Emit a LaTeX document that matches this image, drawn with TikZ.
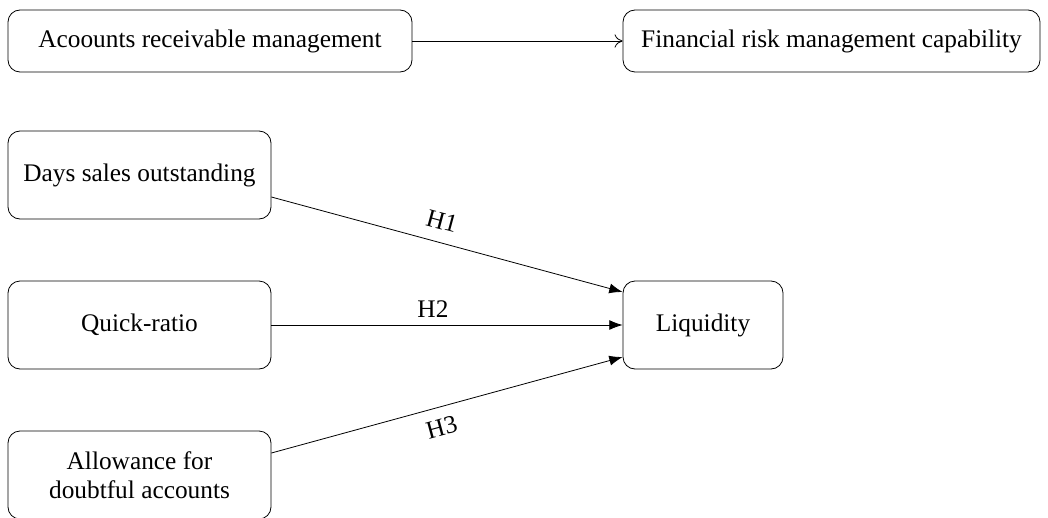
\documentclass[tikz,border=0pt]{standalone}
\usepackage{fontspec}
\setmainfont{Liberation Serif}
\usetikzlibrary{arrows.meta, positioning}

\begin{document}
\begin{tikzpicture}[x=0.75pt, y=-0.75pt, font=\fontsize{19}{22}\selectfont,
  box/.style={draw, rounded corners=9pt, align=center, line width=0.6pt},
  topbox/.style={box, minimum height=46.5pt},
  varbox/.style={box, minimum width=197.25pt, minimum height=66pt},
  hyp/.style={-{Latex[length=10pt,width=7.5pt]}, line width=0.6pt}]

\useasboundingbox (0,0) rectangle (1048,517);

% define the boxes
  \node[topbox, minimum width=303pt]    (acc)  at (210,41)   {Acoounts receivable management};
  \node[topbox, minimum width=312.75pt] (frm)  at (831.5,41) {Financial risk management capability};

  \node[varbox] (dso)  at (139.5,175) {Days sales outstanding};
  \node[varbox] (qr)   at (139.5,325) {Quick-ratio};
  \node[varbox] (afda) at (139.5,475) {Allowance for\\doubtful accounts};
  \node[box, minimum width=120pt, minimum height=66pt] (liq) at (703,325) {Liquidity};

% define the links
  \draw[-{To[length=6pt,width=10pt]}, line width=0.6pt] (acc) -- (frm);

  \draw[hyp] ([yshift=-16.5pt]dso.east) -- node[pos=0.47, sloped, above=6pt] {H1} ([yshift=24.75pt]liq.west);
  \draw[hyp] (qr) -- node[pos=0.46, above=2pt] {H2} (liq);
  \draw[hyp] ([yshift=16.5pt]afda.east) -- node[pos=0.47, sloped, below=5pt] {H3} ([yshift=-24pt]liq.west);

\end{tikzpicture}
\end{document}
